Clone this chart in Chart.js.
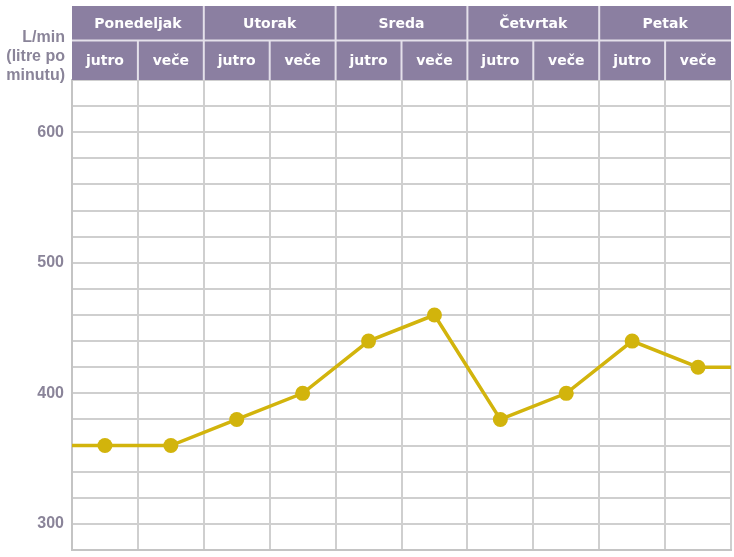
<!DOCTYPE html>
<html>
<head>
<meta charset="utf-8">
<script src="https://cdn.jsdelivr.net/npm/chart.js@4/dist/chart.umd.min.js"></script>
<style>
  html, body { margin: 0; padding: 0; background: #fff; }
  #wrap { width: 734px; height: 557px; position: relative; }
</style>
</head>
<body>
<div id="wrap"><canvas id="chart"></canvas></div>
<script>
// data
const days = ['Ponedeljak', 'Utorak', 'Sreda', 'Četvrtak', 'Petak'];
const parts = ['jutro', 'veče'];
const flow = [360, 360, 380, 400, 440, 460, 380, 400, 440, 420];
const edgeLeft = 360;   // line runs in from the left edge
const edgeRight = 420;  // and out to the right edge
const yTitle = ['L/min', '(litre po', 'minutu)'];

const purple = '#8b7fa1';
const labelColor = '#8a8499';
const gold = '#d2b40c';

const pts = [{x: 0, y: edgeLeft}];
flow.forEach((v, i) => pts.push({x: i + 0.5, y: v}));
pts.push({x: flow.length, y: edgeRight});
const radii = pts.map((p, i) => (i === 0 || i === pts.length - 1) ? 0 : 7.5);

const headerPlugin = {
  id: 'header',
  afterDraw(chart){
    const ctx = chart.ctx;
    const xs = chart.scales.x;
    const top = 6, mid = 40, bot = chart.chartArea.top;
    ctx.save();
    const l = xs.getPixelForValue(0), r = xs.getPixelForValue(flow.length);
    ctx.fillStyle = purple;
    ctx.fillRect(l, top, r - l, bot - top);
    ctx.strokeStyle = '#e4e0ea';
    ctx.lineWidth = 2;
    // row split
    ctx.beginPath(); ctx.moveTo(l, mid + 0.5); ctx.lineTo(r, mid + 0.5); ctx.stroke();
    ctx.fillStyle = '#fff';
    ctx.textAlign = 'center';
    ctx.textBaseline = 'middle';
    ctx.font = 'bold 14px "DejaVu Sans", Verdana, sans-serif';
    days.forEach((d, i) => {
      const a = xs.getPixelForValue(i * 2), b = xs.getPixelForValue(i * 2 + 2);
      if(i > 0){ ctx.beginPath(); ctx.moveTo(a, top); ctx.lineTo(a, mid); ctx.stroke(); }
      ctx.fillText(d, (a + b) / 2, (top + mid) / 2 + 1);
    });
    for(let i = 0; i < flow.length; i++){
      const a = xs.getPixelForValue(i), b = xs.getPixelForValue(i + 1);
      if(i > 0){ ctx.beginPath(); ctx.moveTo(a, mid); ctx.lineTo(a, bot); ctx.stroke(); }
      ctx.fillText(parts[i % 2], (a + b) / 2, (mid + bot) / 2 + 1);
    }
    // axis title
    ctx.fillStyle = labelColor;
    ctx.textAlign = 'right';
    ctx.font = 'bold 16px "Liberation Sans", Arial, sans-serif';
    yTitle.forEach((t, i) => ctx.fillText(t, 65, 38 + i * 19));
    ctx.restore();
  }
};

new Chart(document.getElementById('chart'), {
  type: 'line',
  data: {
    datasets: [{
      data: pts,
      borderColor: gold,
      backgroundColor: gold,
      borderWidth: 3.5,
      pointRadius: radii,
      pointHoverRadius: radii,
      pointBorderWidth: 0,
      tension: 0
    }]
  },
  options: {
    responsive: true,
    maintainAspectRatio: false,
    animation: false,
    layout: { padding: { top: 80, right: 3, bottom: 7, left: 0 } },
    plugins: { legend: { display: false }, tooltip: { enabled: false } },
    scales: {
      x: {
        type: 'linear', min: 0, max: flow.length,
        ticks: { display: false, stepSize: 1 },
        grid: { color: '#cfcfcf', lineWidth: 2, drawTicks: false },
        border: { color: '#c4c4c4', width: 2 },
        afterFit(s){ s.height = 0; }
      },
      y: {
        min: 280, max: 640,
        ticks: {
          stepSize: 20, padding: 8,
          color: labelColor,
          font: { family: '"Liberation Sans", Arial, sans-serif', size: 16, weight: 'bold' },
          callback: v => v % 100 === 0 ? v : ''
        },
        grid: { color: '#cfcfcf', lineWidth: 2, drawTicks: false },
        border: { color: '#c4c4c4', width: 2 },
        afterFit(s){ s.width = 72; s.paddingTop = 0; s.paddingBottom = 0; }
      }
    }
  },
  plugins: [headerPlugin]
});
</script>
</body>
</html>
